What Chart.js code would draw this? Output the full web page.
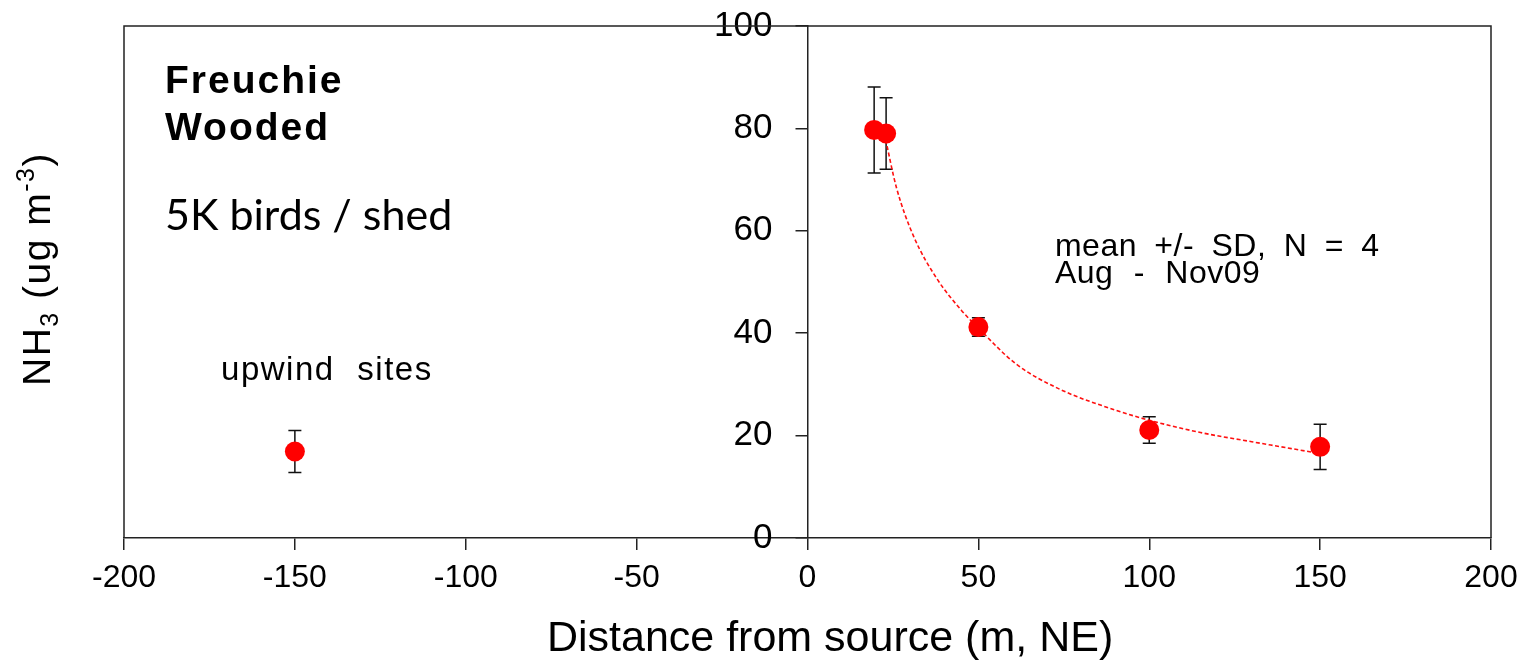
<!DOCTYPE html>
<html><head><meta charset="utf-8">
<script src="https://cdn.jsdelivr.net/npm/chart.js@4/dist/chart.umd.min.js"></script>
<style>html,body{margin:0;padding:0;background:#fff;}#wrap{width:1528px;height:664px;}</style>
</head><body><div id="wrap"><canvas id="c" width="1528" height="664"></canvas></div>
<script>
// Observed means (NH3, ug m-3) and SD
const obsX = [-150, 19.5, 23, 50, 100, 150];
const obsY = [16.9, 79.7, 79.0, 41.2, 21.1, 17.8];
const obsSD = [4.1, 8.4, 7.0, 1.8, 2.6, 4.4];
// Fitted curve
const fitX = [22.5, 26, 31, 38, 45, 50, 61, 74, 90, 100, 115, 130, 150];
const fitY = [79, 68.5, 59, 50.5, 44.5, 41, 34, 29, 25, 23, 20.6, 18.8, 16.5];
// Tick labels
const xTicks = [-200, -150, -100, -50, 0, 50, 100, 150, 200];
const yTicks = [0, 20, 40, 60, 80, 100];

const FONT = '"Liberation Sans", Arial, sans-serif';
const LINE = '#222';
const X_TITLE = 'Distance from source (m, NE)';

const annotations = [
  {text: 'Freuchie', x: -188, y: 86.9, font: 'bold 39px ' + FONT, ls: 2, ws: 0},
  {text: 'Wooded', x: -188, y: 77.7, font: 'bold 39px ' + FONT, ls: 2, ws: 0},
  {text: '5K birds / shed', x: -188, y: 60.2, font: '43px Lato, "Open Sans", sans-serif', ls: 0, ws: 0},
  {text: 'upwind sites', x: -171.6, y: 30.9, font: '33px ' + FONT, ls: 1.5, ws: 12},
  {text: 'mean +/- SD, N = 4', x: 72.4, y: 55.0, font: '32px ' + FONT, ls: 0.5, ws: 8},
  {text: 'Aug - Nov09', x: 72.4, y: 49.8, font: '32px ' + FONT, ls: 0.5, ws: 11}
];

const moveYAxis = {
  id: 'moveYAxis',
  afterLayout(chart) {
    const y = chart.scales.y;
    const x0 = chart.scales.x.getPixelForValue(0);
    y.left = x0 - 100;
    y.right = x0;
    y.width = 100;
  }
};

const frame = {
  id: 'frame',
  beforeDatasetsDraw(chart) {
    const {ctx, chartArea: a} = chart;
    ctx.save();
    ctx.strokeStyle = LINE;
    ctx.lineWidth = 1.5;
    ctx.beginPath();
    ctx.moveTo(a.left, a.bottom);
    ctx.lineTo(a.left, a.top);
    ctx.lineTo(a.right, a.top);
    ctx.lineTo(a.right, a.bottom);
    ctx.stroke();
    ctx.restore();
  }
};

const errBars = {
  id: 'errBars',
  beforeDatasetsDraw(chart) {
    const {ctx, scales: {x, y}} = chart;
    ctx.save();
    ctx.strokeStyle = '#111';
    ctx.lineWidth = 1.5;
    obsX.forEach((v, i) => {
      const px = x.getPixelForValue(v);
      const t = y.getPixelForValue(obsY[i] + obsSD[i]);
      const b = y.getPixelForValue(obsY[i] - obsSD[i]);
      ctx.beginPath();
      ctx.moveTo(px, t); ctx.lineTo(px, b);
      ctx.moveTo(px - 6.5, t); ctx.lineTo(px + 6.5, t);
      ctx.moveTo(px - 6.5, b); ctx.lineTo(px + 6.5, b);
      ctx.stroke();
    });
    ctx.restore();
  }
};

const texts = {
  id: 'texts',
  afterDraw(chart) {
    const {ctx, scales: {x, y}} = chart;
    ctx.save();
    ctx.fillStyle = '#000';
    ctx.textBaseline = 'alphabetic';
    ctx.textAlign = 'left';
    annotations.forEach(a => {
      ctx.font = a.font;
      ctx.letterSpacing = a.ls + 'px';
      ctx.wordSpacing = a.ws + 'px';
      ctx.fillText(a.text, x.getPixelForValue(a.x), y.getPixelForValue(a.y));
    });
    ctx.letterSpacing = '0px';
    ctx.wordSpacing = '0px';
    // X axis title
    ctx.font = '43px ' + FONT;
    ctx.textAlign = 'center';
    ctx.fillText(X_TITLE, x.getPixelForValue(6.6), 651);
    ctx.textAlign = 'left';
    // Y axis title: NH3 (ug m-3) with sub/superscripts
    const big = '39px ' + FONT, small = '25px ' + FONT;
    const parts = [
      {t: 'NH', f: big, dy: 0},
      {t: '3', f: small, dy: 8},
      {t: ' (ug m', f: big, dy: 0},
      {t: '-3', f: small, dy: -16},
      {t: ')', f: big, dy: 0}
    ];
    let total = 0;
    parts.forEach(p => { ctx.font = p.f; ctx.letterSpacing = '1.5px'; p.w = ctx.measureText(p.t).width; total += p.w; });
    const cy = 269;
    ctx.translate(50, cy + total / 2);
    ctx.rotate(-Math.PI / 2);
    let cx = 0;
    parts.forEach(p => { ctx.font = p.f; ctx.fillText(p.t, cx, p.dy); cx += p.w; });
    ctx.restore();
  }
};

new Chart(document.getElementById('c'), {
  type: 'scatter',
  data: {
    datasets: [
      {
        label: 'fit',
        data: fitX.map((v, i) => ({x: v, y: fitY[i]})),
        showLine: true,
        borderColor: '#ff1010',
        borderWidth: 1.6,
        borderDash: [4, 2.5],
        pointRadius: 0,
        cubicInterpolationMode: 'monotone',
        order: 2
      },
      {
        label: 'NH3',
        data: obsX.map((v, i) => ({x: v, y: obsY[i]})),
        backgroundColor: '#ff0000',
        borderWidth: 0,
        pointRadius: 10,
        order: 1
      }
    ]
  },
  options: {
    responsive: false,
    animation: false,
    devicePixelRatio: 1,
    layout: {padding: {left: 124, right: 37, top: 26, bottom: 0}},
    plugins: {legend: {display: false}, tooltip: {enabled: false}},
    scales: {
      x: {
        type: 'linear', position: 'bottom', min: -200, max: 200,
        afterBuildTicks: s => { s.ticks = xTicks.map(v => ({value: v})); },
        afterFit: s => { s.height = 126; },
        grid: {drawOnChartArea: false, tickLength: 12, color: LINE, lineWidth: 1.5},
        border: {display: true, color: LINE, width: 1.5},
        ticks: {padding: 9, color: '#000', font: {family: FONT, size: 32}, maxRotation: 0},
        title: {display: false}
      },
      y: {
        type: 'linear', position: 'left', min: 0, max: 100,
        afterBuildTicks: s => { s.ticks = yTicks.map(v => ({value: v})); },
        afterFit: s => { s.width = 0; s.paddingTop = 0; s.paddingBottom = 0; },
        grid: {drawOnChartArea: false, tickLength: 12, color: LINE, lineWidth: 1.5},
        border: {display: true, color: LINE, width: 1.5},
        ticks: {padding: 23, color: '#000', font: {family: FONT, size: 35}}
      }
    }
  },
  plugins: [moveYAxis, frame, errBars, texts]
});
</script></body></html>
